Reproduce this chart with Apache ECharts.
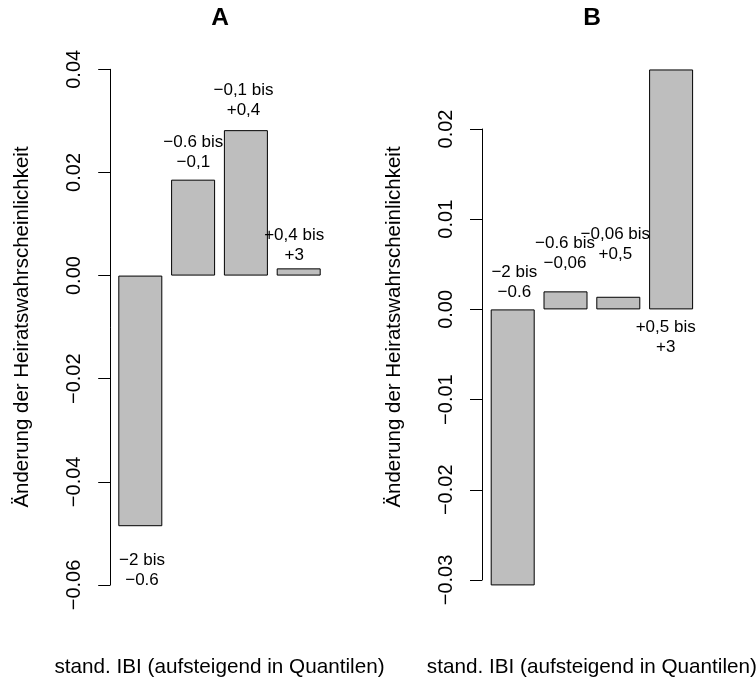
<!DOCTYPE html>
<html>
<head>
<meta charset="utf-8">
<script src="https://cdn.jsdelivr.net/npm/echarts@6/dist/echarts.min.js"></script>
<style>
html,body{margin:0;padding:0;background:#fff;}
#chart{width:756px;height:688px;}
</style>
</head>
<body>
<div id="chart"></div>
<script>
// ---- data ----
var categories = ["Q1", "Q2", "Q3", "Q4"];
var valuesA = [-0.0486, 0.0186, 0.0282, 0.0014];
var valuesB = [-0.0306, 0.0020, 0.0014, 0.0266];
var barLabelsA = ["\u22122 bis\n\u22120.6", "\u22120.6 bis\n\u22120,1", "\u22120,1 bis\n+0,4", "+0,4 bis\n+3"];
var barLabelsB = ["\u22122 bis\n\u22120.6", "\u22120.6 bis\n\u22120,06", "\u22120,06 bis\n+0,5", "+0,5 bis\n+3"];
var tickLabelsA = ["\u22120.06", "\u22120.04", "\u22120.02", "0.00", "0.02", "0.04"];
var tickLabelsB = ["\u22120.03", "\u22120.02", "\u22120.01", "0.00", "0.01", "0.02"];
var titleA = "A", titleB = "B";
var yTitle = "\u00c4nderung der Heiratswahrscheinlichkeit";
var xTitle = "stand. IBI (aufsteigend in Quantilen)";

// ---- styles (label placement relative to bars) ----
var labelPosA = ["bottom", "top", "top", "top"];
var labelDistA = [24, 7.5, 10, 3];
var labelDxA = [1.7, 0.2, -2.4, -4.5];
var labelPosB = ["top", "top", "top", "bottom"];
var labelDistB = [7, 18, 32, 7.6];
var labelDxB = [1.6, -0.5, -3, -5.4];

var FONT = "Liberation Sans, Arial, Helvetica, sans-serif";

function barData(vals, labels, pos, dist, dx) {
  return vals.map(function (v, i) {
    return {
      value: v,
      label: {
        show: true,
        formatter: labels[i],
        position: pos[i],
        distance: dist[i],
        offset: [dx[i], 0]
      }
    };
  });
}

function yAxisCfg(gridIndex, min, max, interval, ticks, offset) {
  return {
    type: "value", gridIndex: gridIndex, min: min, max: max, interval: interval,
    offset: offset,
    axisLine: { show: true, onZero: false, lineStyle: { color: "#000", width: 1 } },
    axisTick: { show: true, length: 12, lineStyle: { color: "#000", width: 1 } },
    splitLine: { show: false },
    axisLabel: {
      rotate: 90, margin: 26, color: "#000", fontSize: 20, fontFamily: FONT,
      formatter: function (v) { return ticks[Math.round((v - min) / interval)]; }
    }
  };
}

function xAxisCfg(gridIndex, gap) {
  return {
    type: "category", gridIndex: gridIndex, data: categories,
    axisLine: { show: false }, axisTick: { show: false }, axisLabel: { show: false },
    name: xTitle, nameLocation: "middle", nameGap: gap,
    nameTextStyle: { color: "#000", fontSize: 20.7, fontFamily: FONT }
  };
}

var labelStyle = { color: "#000", fontSize: 17, lineHeight: 20, fontFamily: FONT, align: "center" };

var option = {
  animation: false,
  backgroundColor: "#fff",
  title: [
    { text: titleA, left: 220, top: 6, padding: 0, textAlign: "center",
      textStyle: { fontSize: 24.5, fontWeight: "bold", color: "#000", fontFamily: FONT } },
    { text: titleB, left: 592, top: 6, padding: 0, textAlign: "center",
      textStyle: { fontSize: 24.5, fontWeight: "bold", color: "#000", fontFamily: FONT } }
  ],
  grid: [
    { left: 113.9, width: 211.2, top: 69.3, height: 515.7, containLabel: false, outerBoundsMode: "none" },
    { left: 486.3, width: 211.2, top: 129, height: 451, containLabel: false, outerBoundsMode: "none" }
  ],
  xAxis: [xAxisCfg(0, 72), xAxisCfg(1, 77)],
  yAxis: [
    yAxisCfg(0, -0.06, 0.04, 0.02, tickLabelsA, 3.7),
    yAxisCfg(1, -0.03, 0.02, 0.01, tickLabelsB, 4.3)
  ],
  graphic: [
    { type: "text", x: 22, y: 327, rotation: Math.PI / 2,
      style: { text: yTitle, fontSize: 20.5, fontFamily: FONT, fill: "#000", align: "center", verticalAlign: "middle" } },
    { type: "text", x: 394, y: 327, rotation: Math.PI / 2,
      style: { text: yTitle, fontSize: 20.5, fontFamily: FONT, fill: "#000", align: "center", verticalAlign: "middle" } }
  ],
  series: [
    { type: "bar", xAxisIndex: 0, yAxisIndex: 0, barWidth: 44, clip: false,
      itemStyle: { color: "#bebebe", borderColor: "#000", borderWidth: 1 },
      label: labelStyle,
      data: barData(valuesA, barLabelsA, labelPosA, labelDistA, labelDxA) },
    { type: "bar", xAxisIndex: 1, yAxisIndex: 1, barWidth: 44, clip: false,
      itemStyle: { color: "#bebebe", borderColor: "#000", borderWidth: 1 },
      label: labelStyle,
      data: barData(valuesB, barLabelsB, labelPosB, labelDistB, labelDxB) }
  ]
};

var chart = echarts.init(document.getElementById("chart"), null, { renderer: "canvas" });
chart.setOption(option);
</script>
</body>
</html>
